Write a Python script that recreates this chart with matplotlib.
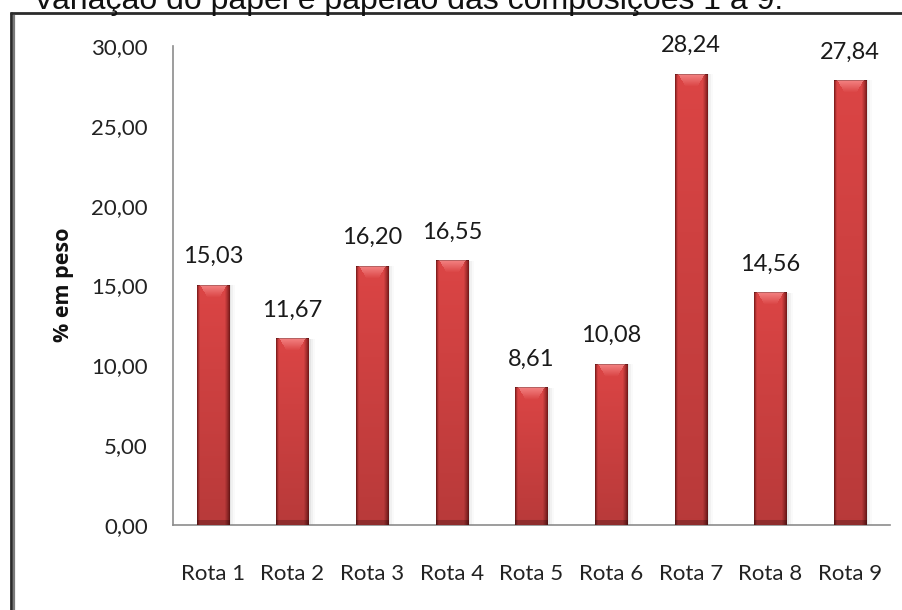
import numpy as np
import matplotlib
matplotlib.use("Agg")
import matplotlib.pyplot as plt
from matplotlib.lines import Line2D

# Dados
categorias = ['Rota 1', 'Rota 2', 'Rota 3', 'Rota 4', 'Rota 5',
              'Rota 6', 'Rota 7', 'Rota 8', 'Rota 9']
valores = [15.03, 11.67, 16.20, 16.55, 8.61, 10.08, 28.24, 14.56, 27.84]
rotulos = ['15,03', '11,67', '16,20', '16,55', '8,61',
           '10,08', '28,24', '14,56', '27,84']
yticks = [0, 5, 10, 15, 20, 25, 30]
ytick_rotulos = ['0,00', '5,00', '10,00', '15,00', '20,00', '25,00', '30,00']
titulo = 'Variação do papel e papelão das composições 1 a 9.'
ylabel = '% em peso'

W, H, DPI = 903, 610, 100
fig = plt.figure(figsize=(W / DPI, H / DPI), dpi=DPI)
fig.patch.set_facecolor('white')

ax_l, ax_r, ax_b, ax_t = 173, 890, 525, 46
ax = fig.add_axes([ax_l / W, 1 - ax_b / H, (ax_r - ax_l) / W, (ax_b - ax_t) / H])

largura = 0.41
ymax = 30
px_por_unidade = (ax_b - ax_t) / ymax
px_largura = largura * (ax_r - ax_l) / len(categorias)


def textura_barra(h_px, w_px):
    """Imagem RGB com sombreado de barra 3D (bordas escuras, topo claro)."""
    h_px = max(int(round(h_px)), 4)
    w_px = max(int(round(w_px)), 4)
    u = (np.arange(w_px) + 0.5) / w_px
    base = np.array([0.86, 0.27, 0.27])
    escuro = np.array([0.42, 0.08, 0.08])
    # perfil horizontal: borda esquerda fina escura, direita mais larga
    perfil = np.clip(np.minimum(u / 0.09, (1 - u) / 0.16), 0, 1) ** 0.8
    linha = escuro + (base - escuro) * perfil[:, None]
    img = np.repeat(linha[None, :, :], h_px, axis=0)
    # escurece levemente em direção à base
    t = np.linspace(0, 1, h_px)[:, None, None]
    img = img * (1.0 - 0.16 * t)
    # faixa inferior (chanfro)
    nb = min(5, h_px // 4)
    img[-nb:] *= 0.78
    # chanfro superior claro em forma de trapézio
    nt = min(12, h_px // 3)
    claro = np.array([0.97, 0.55, 0.55])
    for r in range(nt):
        a = 0.10 + 0.22 * r / nt
        mask = (u > a) & (u < 1 - a)
        k = 1 - r / nt
        img[r, mask] = img[r, mask] * (1 - 0.85 * k) + claro * 0.85 * k
    img[0, :] *= 0.75
    return np.clip(img, 0, 1)


for i, v in enumerate(valores):
    x0, x1 = i - largura / 2, i + largura / 2
    # sombra suave à direita
    for k, alfa in enumerate([0.05, 0.035, 0.02]):
        dx = (k + 1) * 2.0 / px_largura * largura
        ax.bar(i + dx, v, width=largura, color='black', alpha=alfa,
               linewidth=0, zorder=1)
    ax.bar(i, v, width=largura, color='#d64545', linewidth=0, zorder=2)
    ax.imshow(textura_barra(v * px_por_unidade, px_largura),
              extent=[x0, x1, 0, v], aspect='auto', origin='upper',
              interpolation='bilinear', zorder=3)
    ax.annotate(rotulos[i], xy=(i, v), xytext=(0, 13), textcoords='offset points',
                ha='center', va='bottom', fontsize=17, family='Lato',
                color='#1a1a1a')

ax.set_xlim(-0.5, len(categorias) - 0.5)
ax.set_ylim(0, ymax)
ax.set_aspect('auto')
ax.set_xticks(range(len(categorias)), categorias)
ax.set_yticks(yticks, ytick_rotulos)
ax.tick_params(axis='both', length=0)
ax.tick_params(axis='y', pad=18, labelsize=16, labelcolor='#222222')
ax.tick_params(axis='x', pad=28, labelsize=16, labelcolor='#222222')
for lab in ax.get_xticklabels() + ax.get_yticklabels():
    lab.set_family('Lato')
for s in ('top', 'right'):
    ax.spines[s].set_visible(False)
for s in ('left', 'bottom'):
    ax.spines[s].set_color('#8c8c8c')
    ax.spines[s].set_linewidth(1.2)
ax.set_facecolor('none')

fig.text(64 / W, 1 - 285 / H, ylabel, rotation=90, ha='center', va='center',
         fontsize=15.5, fontweight='bold', family='Open Sans', color='#111111')

# título (parcialmente cortado pela borda superior)
fig.text(33 / W, 1 - 8.5 / H, titulo, ha='left', va='baseline',
         fontsize=23, family='Liberation Sans', color='#111111')

# moldura dupla
def linha_fig(xs, ys, cor, lw):
    fig.add_artist(Line2D([x / W for x in xs], [1 - y / H for y in ys],
                          transform=fig.transFigure, color=cor, linewidth=lw,
                          solid_capstyle='butt'))

linha_fig([11, 11], [12, H + 5], '#2b2b2b', 2.0)
linha_fig([10, W + 5], [13, 13], '#2b2b2b', 2.0)
linha_fig([14, 14], [15, H + 5], '#7a7a7a', 1.6)

fig.savefig('out.png', dpi=DPI, facecolor='white')
